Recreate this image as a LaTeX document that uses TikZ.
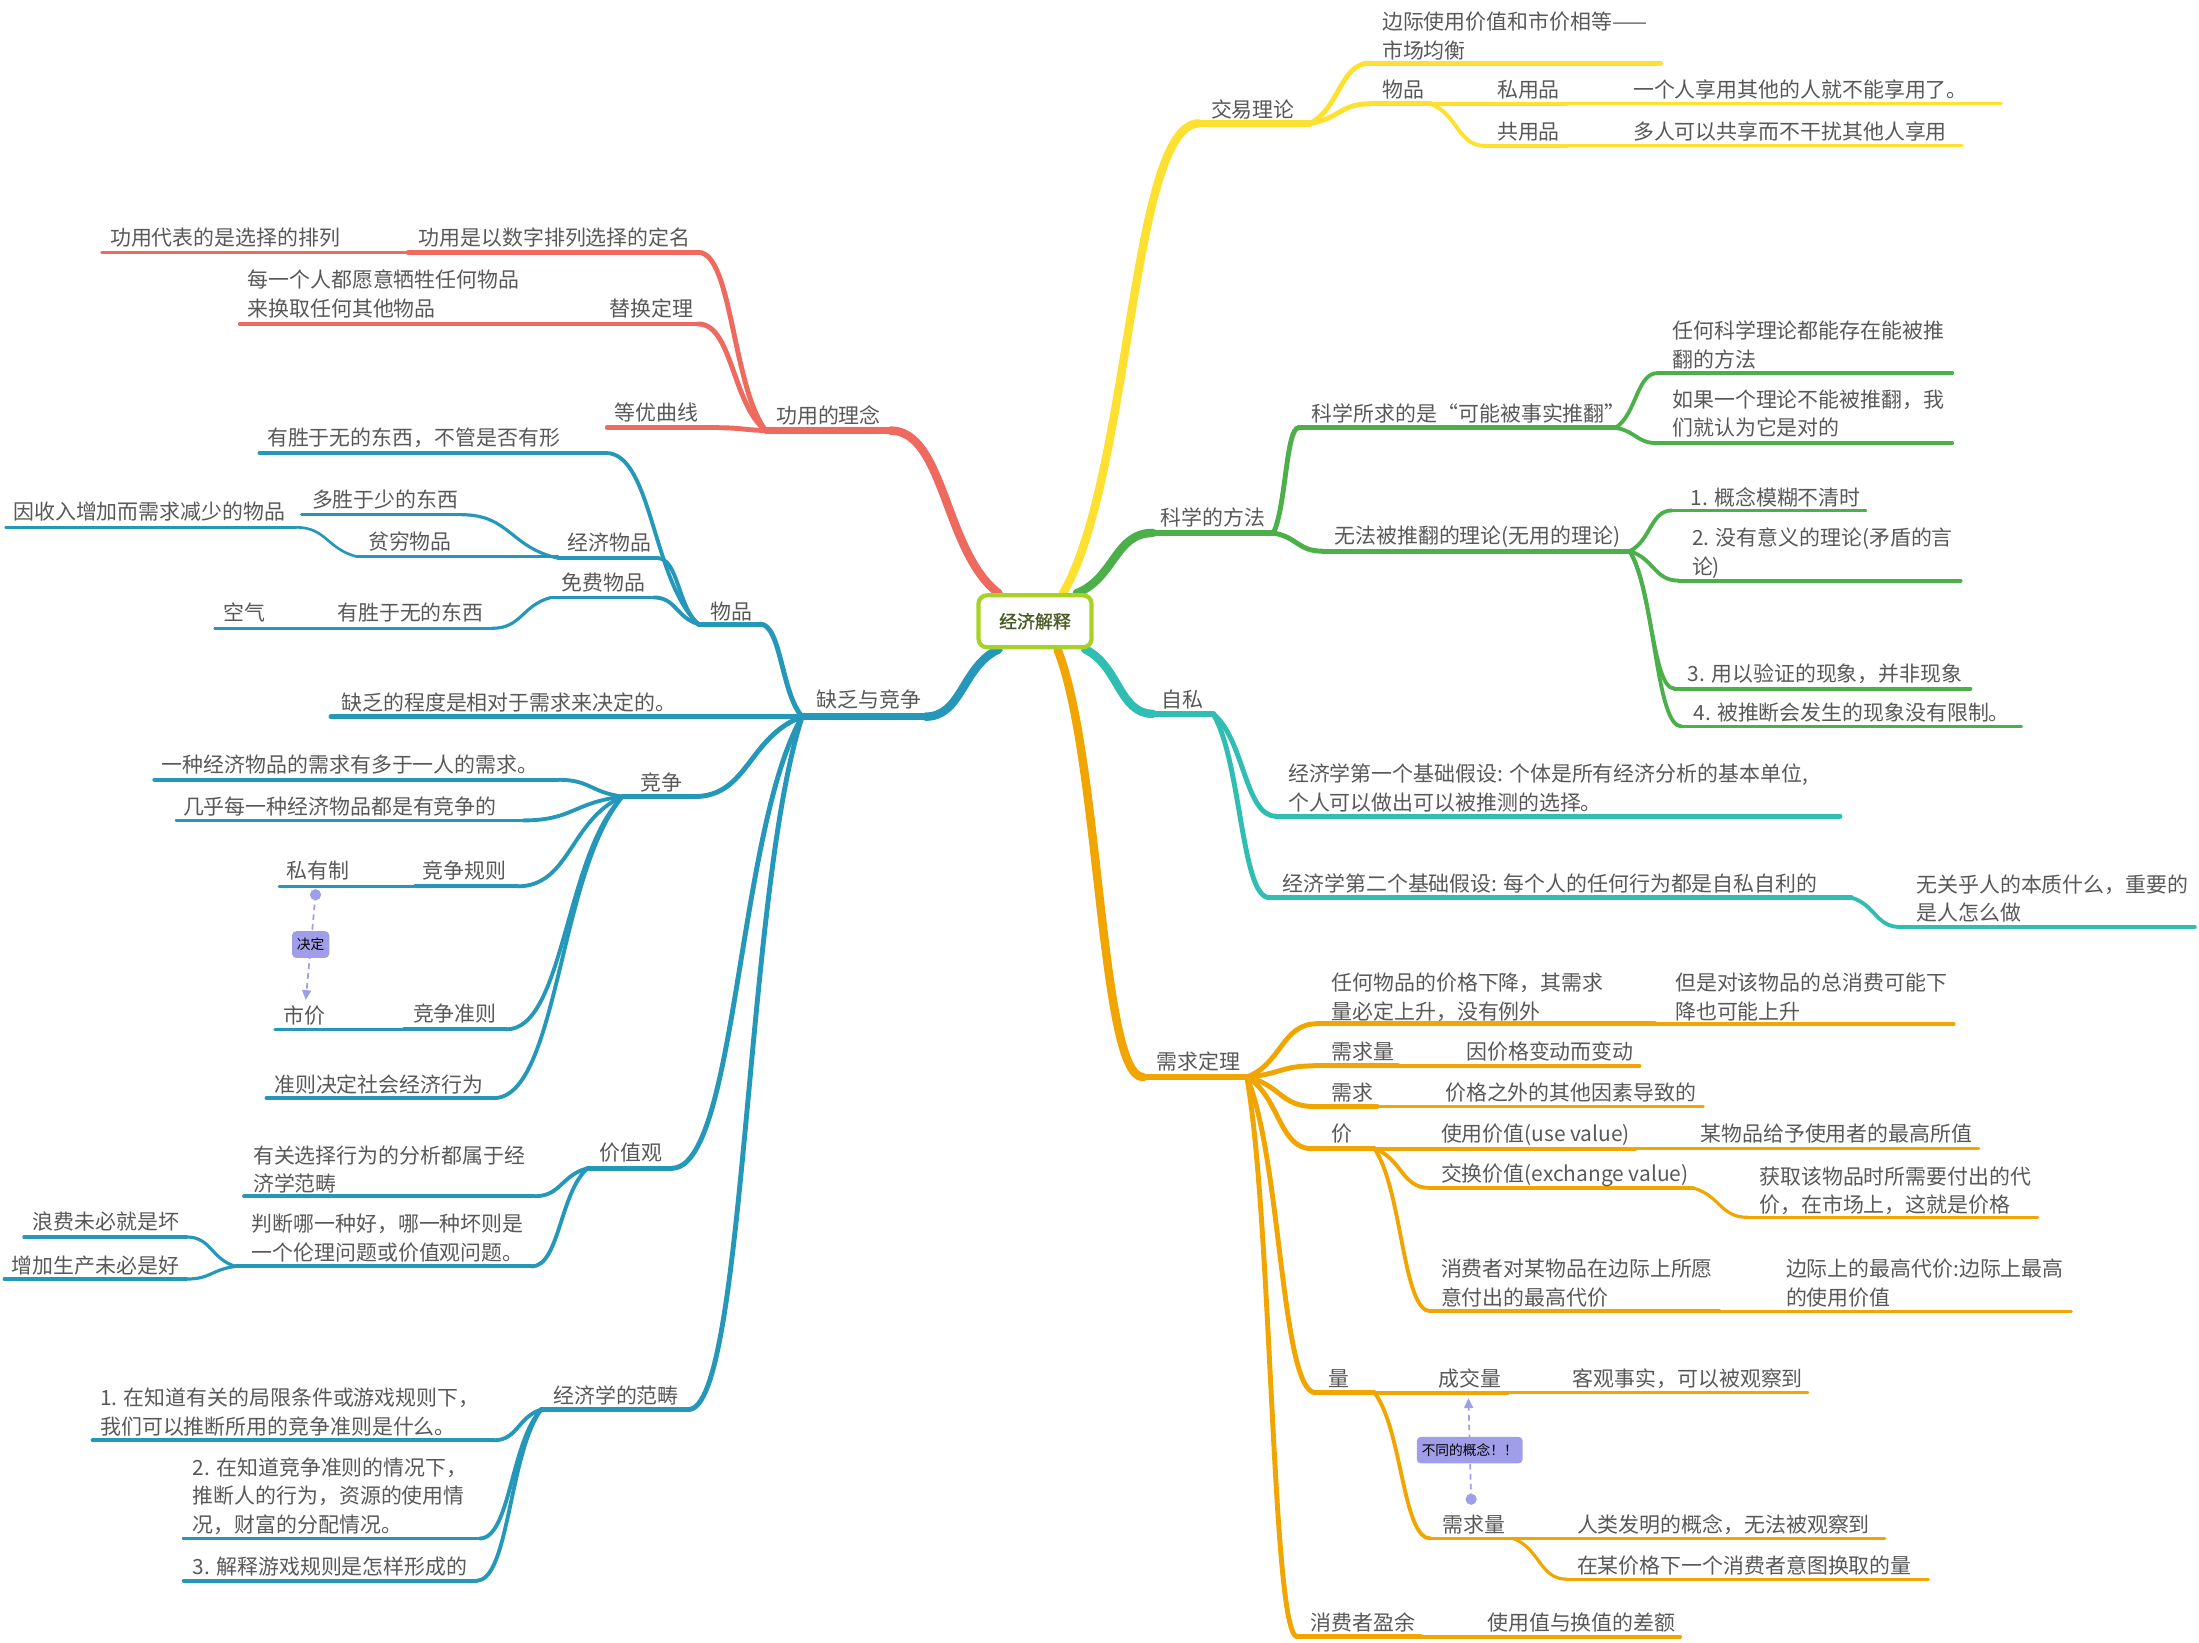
\documentclass[tikz,border=0pt]{standalone}
\usepackage{fontspec}
\setmainfont{Noto Sans CJK SC}
\newfontfamily\boldcn{Noto Sans CJK SC}[FakeBold=1.2]
\usetikzlibrary{calc,arrows.meta,backgrounds}
\definecolor{yel}{RGB}{254,224,48}
\definecolor{redc}{RGB}{239,106,94}
\definecolor{grn}{RGB}{76,176,74}
\definecolor{tealc}{RGB}{48,190,178}
\definecolor{blu}{RGB}{37,152,186}
\definecolor{org}{RGB}{240,165,0}
\definecolor{lime}{RGB}{166,210,40}
\definecolor{olive}{RGB}{75,90,35}
\definecolor{lav}{RGB}{160,158,232}
\definecolor{tcol}{RGB}{88,88,88}
\newcommand\fs{\fontsize{5.95}{8.15}\selectfont}
\newcommand\tp[8][]{%
  \coordinate (#2-l) at (#3,#5);
  \coordinate (#2-r) at (#4,#5);
  \draw[#1] (#2-l) -- (#2-r);
  \node[txt] (#2) at (#6,{#7+5.7}) {#8};
}
\newcommand\cn[3][]{\draw[#1] let \p1=(#2), \p2=(#3) in (\p1) .. controls ({\x1+0.5*(\x2-\x1)},{\y1+0.25*(\y2-\y1)}) and ({\x1+0.5*(\x2-\x1)},\y2) .. (\p2);}
\begin{document}
\begin{tikzpicture}[x=0.014024cm,y=-0.014024cm,
  txt/.style={inner sep=0pt, anchor=base west, font=\fs, text=tcol, align=left},
  l0/.style={line width=2.4pt, line cap=round},
  l1/.style={line width=1.8pt, line cap=round},
  l2/.style={line width=1.4pt, line cap=round},
  l3/.style={line width=1.1pt, line cap=round},
  l4/.style={line width=0.9pt, line cap=round},
  l5/.style={line width=0.75pt, line cap=round},
  lab/.style={fill=lav, rounded corners=1.2pt, inner xsep=1.4pt, inner ysep=0pt, minimum height=7.6pt, font=\fontsize{3.9}{4.5}\selectfont, text=black},
  rel/.style={draw=lav, line width=0.5pt, dash pattern=on 1.6pt off 1.2pt, -{Triangle[length=2.8pt,width=2.6pt]}},
  rootbox/.style={draw=lime, line width=1.2pt, rounded corners=2.4pt, fill=white, minimum width=1.13cm, minimum height=0.52cm, inner sep=0pt, font=\boldcn\fontsize{5.1}{6}\selectfont, text=olive}]
\useasboundingbox (0,0) rectangle (1568,1171);

\node[rootbox] (root) at (738,443) {经济解释};

% ---------- yellow ----------
\begin{scope}[draw=yel]
\tp[l1]{jy}{855}{934}{88}{863}{78}{交易理论}
\tp[l2]{jy1}{977}{1184}{45}{985}{36}{边际使用价值和市价相等——\\市场均衡}
\tp[l2]{jy2}{977}{1020}{74}{985}{64}{物品}
\tp[l3]{jy21}{1020}{1117}{74}{1067}{64}{私用品}
\tp[l4]{jy211}{1117}{1427}{74}{1164}{64}{一个人享用其他的人就不能享用了。}
\tp[l3]{jy22}{1059}{1117}{104}{1067}{94}{共用品}
\tp[l4]{jy221}{1117}{1399}{104}{1164}{94}{多人可以共享而不干扰其他人享用}
\cn[l2]{jy-r}{jy1-l}
\cn[l2]{jy-r}{jy2-l}
\cn[l3]{jy2-r}{jy22-l}
\end{scope}

% ---------- red ----------
\begin{scope}[draw=redc]
\tp[l1]{gy}{546}{635}{307}{553}{296}{功用的理念}
\tp[l2]{gy1}{291}{498}{180}{298}{169}{功用是以数字排列选择的定名}
\tp[l3]{gy11}{73}{291}{180}{78}{169}{功用代表的是选择的排列}
\tp[l2]{gy2}{427}{498}{231}{434}{220}{替换定理}
\tp[l3]{gy21}{171}{427}{231}{176}{220}{每一个人都愿意牺牲任何物品\\来换取任何其他物品}
\tp[l2]{gy3}{433}{512}{305}{438}{294}{等优曲线}
\cn[l2]{gy-l}{gy1-r}
\cn[l2]{gy-l}{gy2-r}
\cn[l2]{gy-l}{gy3-r}
\end{scope}

% ---------- blue ----------
\begin{scope}[draw=blu]
\tp[l1]{qf}{572}{660}{511}{582}{499}{缺乏与竞争}
\tp[l2]{wp}{498}{542}{445}{506}{436}{物品}
\tp[l3]{wp1}{185}{432}{323}{190}{312}{有胜于无的东西，不管是否有形}
\tp[l3]{wp2}{398}{469}{398}{404}{387}{经济物品}
\tp[l4]{wp21}{215}{329}{367}{222}{356}{多胜于少的东西}
\tp[l4]{wp22}{255}{398}{397}{262}{386}{贫穷物品}
\tp[l5]{wp221}{4}{211}{376}{9}{365}{因收入增加而需求减少的物品}
\tp[l3]{wp3}{393}{466}{426}{400}{415}{免费物品}
\tp[l4]{wp31}{233}{351}{448}{240}{437}{有胜于无的东西}
\tp[l5]{wp311}{153}{233}{448}{159}{437}{空气}
\tp[l2]{qd}{236}{548}{511}{243}{501}{缺乏的程度是相对于需求来决定的。}
\tp[l2]{jz}{444}{495}{568}{456}{558}{竞争}
\tp[l3]{jz1}{110}{398}{556}{115}{545}{一种经济物品的需求有多于一人的需求。}
\tp[l3]{jz2}{126}{373}{585}{130}{575}{几乎每一种经济物品都是有竞争的}
\tp[l3]{jz3}{296}{369}{632}{301}{621}{竞争规则}
\tp[l4]{jz31}{199}{296}{632}{204}{621}{私有制}
\tp[l3]{jz4}{288}{361}{734}{294}{723}{竞争准则}
\tp[l4]{jz41}{196}{288}{734}{202}{724}{市价}
\tp[l3]{jz5}{190}{352}{783}{195}{773}{准则决定社会经济行为}
\tp[l2]{jg}{419}{479}{833}{427}{822}{价值观}
\tp[l3]{jg1}{174}{381}{853}{180}{844}{有关选择行为的分析都属于经\\济学范畴}
\tp[l3]{jg2}{168}{379}{903}{179}{893}{判断哪一种好，哪一种坏则是\\一个伦理问题或价值观问题。}
\tp[l4]{jg21}{17}{133}{882}{23}{871}{浪费未必就是坏}
\tp[l4]{jg22}{3}{133}{912}{8}{902}{增加生产未必是好}
\tp[l2]{fc}{386}{491}{1005}{394}{995}{经济学的范畴}
\tp[l3]{fc1}{66}{352}{1027}{71}{1017}{1. 在知道有关的局限条件或游戏规则下，\\我们可以推断所用的竞争准则是什么。}
\tp[l3]{fc2}{131}{342}{1097}{137}{1087}{2. 在知道竞争准则的情况下，\\推断人的行为，资源的使用情\\况，财富的分配情况。}
\tp[l3]{fc3}{131}{340}{1127}{137}{1117}{3. 解释游戏规则是怎样形成的}
\cn[l2]{qf-l}{wp-r}
\cn[l2]{qf-l}{qd-r}
\cn[l2]{qf-l}{jz-r}
\cn[l2]{qf-l}{jg-r}
\cn[l2]{qf-l}{fc-r}
\cn[l3]{wp-l}{wp1-r}
\cn[l3]{wp-l}{wp2-r}
\cn[l3]{wp-l}{wp3-r}
\cn[l4]{wp2-l}{wp21-r}
\cn[l5]{wp22-l}{wp221-r}
\cn[l4]{wp3-l}{wp31-r}
\cn[l3]{jz-l}{jz1-r}
\cn[l3]{jz-l}{jz2-r}
\cn[l3]{jz-l}{jz3-r}
\cn[l3]{jz-l}{jz4-r}
\cn[l3]{jz-l}{jz5-r}
\cn[l3]{jg-l}{jg1-r}
\cn[l3]{jg-l}{jg2-r}
\cn[l4]{jg2-l}{jg21-r}
\cn[l4]{jg2-l}{jg22-r}
\cn[l3]{fc-l}{fc1-r}
\cn[l3]{fc-l}{fc2-r}
\cn[l3]{fc-l}{fc3-r}
\end{scope}
\coordinate (d1s) at (225,638);
\coordinate (d1e) at (218,713);
\fill[lav] (d1s) circle (1.6pt);
\draw[rel] (d1s) -- (d1e);
\node[lab] (lab1) at (221.5,673.5) {决定};

% ---------- green ----------
\begin{scope}[draw=grn]
\tp[l1]{kx}{822}{908}{380}{827}{369}{科学的方法}
\tp[l2]{kx1}{926}{1152}{305}{935}{295}{科学所求的是“可能被事实推翻”}
\tp[l3]{kx11}{1182}{1392}{266}{1192}{256}{任何科学理论都能存在能被推\\翻的方法}
\tp[l3]{kx12}{1182}{1392}{316}{1192}{305}{如果一个理论不能被推翻，我\\们就认为它是对的}
\tp[l2]{kx2}{943}{1162}{393}{951}{382}{无法被推翻的理论(无用的理论)}
\tp[l3]{kx21}{1192}{1330}{364}{1205}{355}{1. 概念模糊不清时}
\tp[l3]{kx22}{1197}{1398}{414}{1206}{404}{2. 没有意义的理论(矛盾的言\\论)}
\tp[l3]{kx23}{1194}{1405}{491}{1203}{480}{3. 用以验证的现象，并非现象}
\tp[l3]{kx24}{1199}{1441}{518}{1207}{508}{4. 被推断会发生的现象没有限制。}
\cn[l2]{kx-r}{kx1-l}
\cn[l2]{kx-r}{kx2-l}
\cn[l3]{kx1-r}{kx11-l}
\cn[l3]{kx1-r}{kx12-l}
\cn[l3]{kx2-r}{kx21-l}
\cn[l3]{kx2-r}{kx22-l}
\cn[l3]{kx2-r}{kx23-l}
\cn[l3]{kx2-r}{kx24-l}
\end{scope}

% ---------- teal ----------
\begin{scope}[draw=tealc]
\tp[l1]{zs}{822}{865}{509}{828}{499}{自私}
\tp[l2]{zs1}{910}{1312}{582}{918}{572}{经济学第一个基础假设: 个体是所有经济分析的基本单位,\\个人可以做出可以被推测的选择。}
\tp[l2]{zs2}{905}{1320}{640}{914}{630}{经济学第二个基础假设: 每个人的任何行为都是自私自利的}
\tp[l3]{zs21}{1355}{1565}{661}{1366}{651}{无关乎人的本质什么，重要的\\是人怎么做}
\cn[l2]{zs-r}{zs1-l}
\cn[l2]{zs-r}{zs2-l}
\cn[l3]{zs2-r}{zs21-l}
\end{scope}

% ---------- orange ----------
\begin{scope}[draw=org]
\tp[l1]{xq}{815}{889}{768}{824}{757}{需求定理}
\tp[l2]{xq1}{939}{1180}{730}{949}{721}{任何物品的价格下降，其需求\\量必定上升，没有例外}
\tp[l3]{xq11}{1180}{1393}{730}{1194}{721}{但是对该物品的总消费可能下\\降也可能上升}
\tp[l2]{xq2}{937}{997}{760}{949}{750}{需求量}
\tp[l3]{xq21}{997}{1169}{760}{1045}{750}{因价格变动而变动}
\tp[l2]{xq3}{937}{982}{789}{949}{779}{需求}
\tp[l3]{xq31}{982}{1214}{789}{1030}{779}{价格之外的其他因素导致的}
\tp[l2]{xq4}{935}{980}{819}{949}{808}{价}
\tp[l3]{xq41}{980}{1166}{819}{1027}{808}{使用价值(use value)}
\tp[l4]{xq411}{1166}{1411}{819}{1212}{808}{某物品给予使用者的最高所值}
\tp[l3]{xq42}{1019}{1207}{847}{1027}{837}{交换价值(exchange value)}
\tp[l4]{xq421}{1246}{1453}{868}{1254}{859}{获取该物品时所需要付出的代\\价，在市场上，这就是价格}
\tp[l3]{xq43}{1020}{1226}{935}{1027}{925}{消费者对某物品在边际上所愿\\意付出的最高代价}
\tp[l4]{xq431}{1226}{1477}{935}{1273}{925}{边际上的最高代价:边际上最高\\的使用价值}
\tp[l2]{xq5}{938}{980}{993}{947}{983}{量}
\tp[l3]{xq51}{980}{1075}{993}{1025}{983}{成交量}
\tp[l4]{xq511}{1075}{1289}{993}{1121}{983}{客观事实，可以被观察到}
\tp[l3]{xq52}{1020}{1079}{1097}{1028}{1087}{需求量}
\tp[l4]{xq521}{1079}{1344}{1097}{1124}{1087}{人类发明的概念，无法被观察到}
\tp[l4]{xq522}{1117}{1375}{1126}{1124}{1116}{在某价格下一个消费者意图换取的量}
\tp[l2]{xq6}{925}{1013}{1167}{934}{1157}{消费者盈余}
\tp[l3]{xq61}{1013}{1198}{1167}{1060}{1157}{使用值与换值的差额}
\cn[l2]{xq-r}{xq1-l}
\cn[l2]{xq-r}{xq2-l}
\cn[l2]{xq-r}{xq3-l}
\cn[l2]{xq-r}{xq4-l}
\cn[l2]{xq-r}{xq5-l}
\cn[l2]{xq-r}{xq6-l}
\cn[l3]{xq4-r}{xq42-l}
\cn[l3]{xq4-r}{xq43-l}
\cn[l4]{xq42-r}{xq421-l}
\cn[l3]{xq5-r}{xq52-l}
\cn[l4]{xq52-r}{xq522-l}
\end{scope}
\coordinate (d2s) at (1049,1069);
\coordinate (d2e) at (1047,997);
\fill[lav] (d2s) circle (1.6pt);
\draw[rel] (d2s) -- (d2e);
\node[lab] (lab2) at (1048,1034) {不同的概念！！};

% ---------- main branches ----------
\begin{pgfonlayer}{background}
\cn[l0,draw=yel]{$(root.north)+(20,0)$}{jy-l}
\cn[l0,draw=redc]{$(root.north)+(-26,0)$}{gy-r}
\cn[l0,draw=grn]{$(root.north east)+(-12,0)$}{kx-l}
\cn[l0,draw=tealc]{$(root.south east)+(-6,0)$}{zs-l}
\cn[l0,draw=org]{$(root.south)+(16,0)$}{xq-l}
\cn[l0,draw=blu]{$(root.south)+(-26,0)$}{qf-r}
\end{pgfonlayer}
\end{tikzpicture}
\end{document}
